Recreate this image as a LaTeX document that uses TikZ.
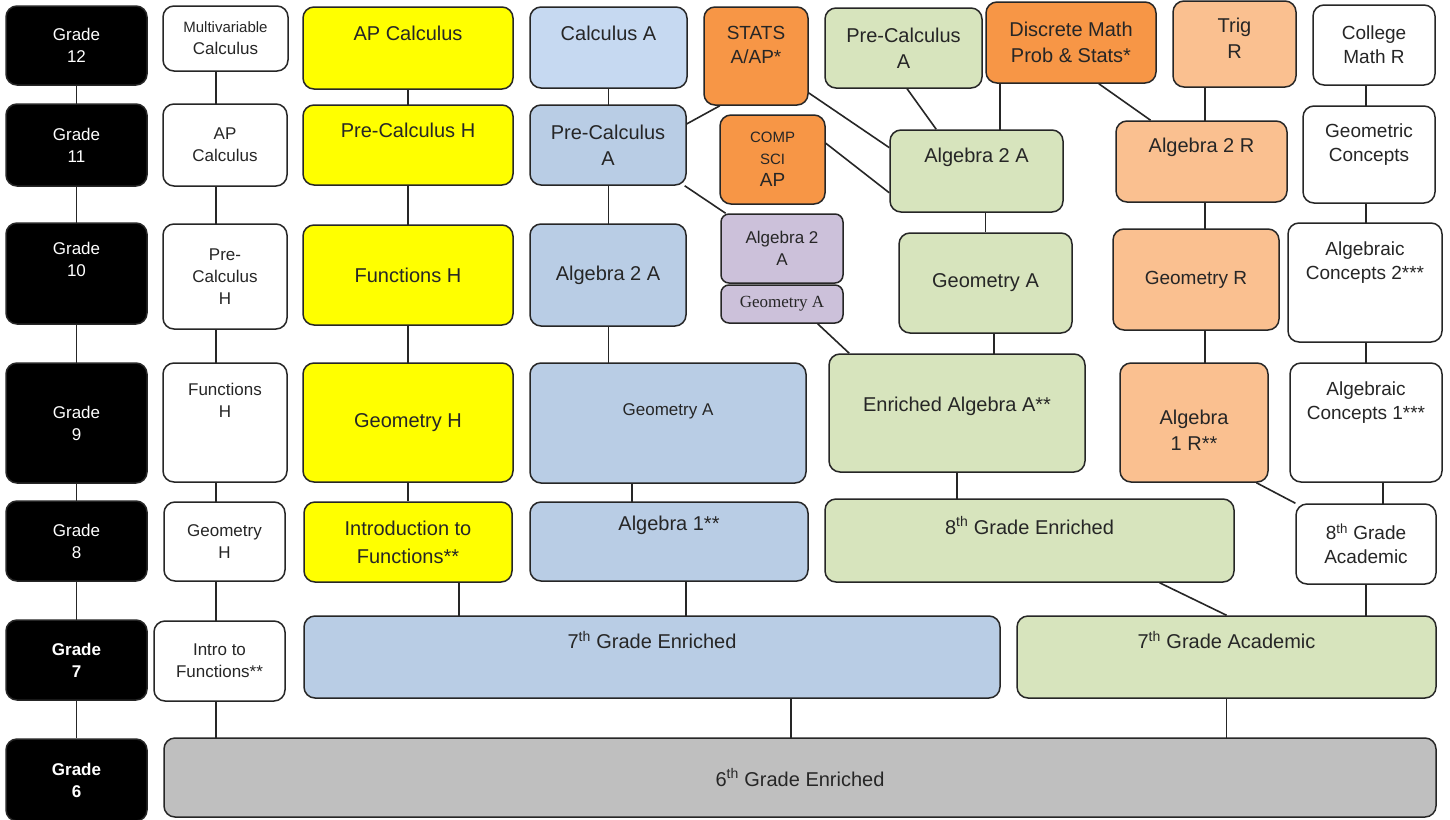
\documentclass[tikz,border=0pt]{standalone}
\usepackage{fontspec}
\setmainfont{Liberation Sans}
\newfontfamily\timesfont{Liberation Serif}
\usetikzlibrary{positioning}
\definecolor{honours}{HTML}{FFFF00}
\definecolor{accel}{HTML}{B9CDE5}
\definecolor{accellight}{HTML}{C6D9F1}
\definecolor{elective}{HTML}{F79646}
\definecolor{regular}{HTML}{FAC090}
\definecolor{enriched}{HTML}{D7E4BD}
\definecolor{bridge}{HTML}{CCC1DA}
\definecolor{base}{HTML}{BFBFBF}
\tikzset{
    % Lines joining one course to the next
    link/.style={draw=black!85, line width=1.6pt},
%
    % Every course is a rounded box with centred text
    course/.style={draw=black!85, line width=1.5pt, rounded corners=11pt,
        align=center, text=black!85},
    boxsize/.style 2 args={minimum width=#1, minimum height=#2},
%
    % Text sizes used in the chart
    bigtext/.style={font=\fontsize{20}{26}\selectfont},
    midtext/.style={font=\fontsize{19}{24}\selectfont},
    smalltext/.style={font=\fontsize{17}{22}\selectfont},
%
    % One fill for each track
    grade/.style={course, fill=black, text=white, smalltext, boxsize={141}{#1}},
    whitebox/.style={course, fill=white},
    yellowbox/.style={course, fill=honours},
    bluebox/.style={course, fill=accel},
    orangebox/.style={course, fill=elective},
    peachbox/.style={course, fill=regular},
    greenbox/.style={course, fill=enriched},
    purplebox/.style={course, fill=bridge, rounded corners=8pt},
    graybox/.style={course, fill=base},
    every label/.style={align=center, text=black!85}}
\pgfdeclarelayer{background}
\pgfsetlayers{background,main}
\begin{document}
\begin{tikzpicture}[x=1pt, y=-1pt]
\useasboundingbox (0,0) rectangle (1450,819);

% x positions of the vertical links that are off centre
\coordinate (colB) at (216,0);
\coordinate (colC) at (459,0);
\coordinate (colD) at (632,0);
\coordinate (colE) at (686,0);
\coordinate (colF) at (791,0);
\coordinate (colG) at (1000,0);
\coordinate (colH) at (994,0);
\coordinate (colI) at (1205,0);
\coordinate (colJ) at (1383,0);
\coordinate (colK) at (1366,0);

% grades
\node (g12) [grade=79] at (76.5,45.5) {Grade\\12};
\node (g11) [grade=82] at (76.5,145) {Grade\\11};
\node (g10) [grade=101,
    label={[smalltext, text=white, yshift=14pt]center:Grade\\10}]
    at (76.5,273.5) {};
\node (g9) [grade=120] at (76.5,423) {Grade\\9};
\node (g8) [grade=80] at (76.5,541) {Grade\\8};
\node (g7) [grade=80, font=\fontsize{17}{22}\selectfont\bfseries]
    at (76.5,660) {Grade\\7};
\node (g6) [grade=82, font=\fontsize{17}{22}\selectfont\bfseries]
    at (76.5,780) {Grade\\6};

% white track on the left
\node (mvc) [whitebox, smalltext, boxsize={125}{65}] at (225.5,38.5)
    {{\fontsize{15}{18}\selectfont Multivariable}\\Calculus};
\node (apc) [whitebox, smalltext, boxsize={124}{82}] at (225,145)
    {AP\\Calculus};
\node (pchW) [whitebox, smalltext, boxsize={124}{105}] at (225,276.5)
    {Pre-\\Calculus\\H};
\node (fnW) [whitebox, boxsize={124}{119},
    label={[smalltext, yshift=22pt]center:Functions\\H}] at (225,422.5) {};
\node (geoW) [whitebox, smalltext, boxsize={121}{79}] at (224.5,541.5)
    {Geometry\\H};
\node (introW) [whitebox, smalltext, boxsize={131}{80}] at (219.5,661)
    {Intro to\\Functions**};

% honours track
\node (apcY) [yellowbox, boxsize={210}{82},
    label={[bigtext, yshift=15pt]center:AP Calculus}] at (408,48) {};
\node (pchY) [yellowbox, boxsize={210}{80},
    label={[bigtext, yshift=15pt]center:Pre-Calculus H}] at (408,145) {};
\node (fnY) [yellowbox, bigtext, boxsize={210}{100}] at (408,275)
    {Functions H};
\node (geoY) [yellowbox, bigtext, boxsize={210}{119}] at (408,422.5)
    {Geometry H};
\node (introY) [yellowbox, font=\fontsize{20}{28}\selectfont,
    boxsize={208}{80}] at (408,542) {Introduction to\\Functions**};

% accelerated track
\node (calcA) [bluebox, fill=accellight, boxsize={157}{81},
    label={[bigtext, yshift=14pt]center:Calculus A}] at (608.5,47.5) {};
\node (pcA) [bluebox, bigtext, boxsize={156}{80}] at (608,145)
    {Pre-Calculus\\A};
\node (alg2A) [bluebox, bigtext, boxsize={156}{102}] at (608,275)
    {Algebra 2 A};
\node (geoA) [bluebox, boxsize={276}{120},
    label={[smalltext, yshift=12pt]center:Geometry A}] at (668,423) {};
\node (alg1) [bluebox, boxsize={278}{79},
    label={[bigtext, yshift=16pt]center:Algebra 1**}] at (669,541.5) {};
\node (enr7) [bluebox, boxsize={696}{82},
    label={[bigtext, yshift=17pt]center:7\textsuperscript{th} Grade Enriched}]
    at (652,657) {};

% electives and regular track
\node (stats) [orangebox, boxsize={104}{98},
    label={[midtext, yshift=11pt]center:STATS\\A/AP*}] at (756,56) {};
\node (comp) [orangebox, font=\fontsize{15}{22}\selectfont,
    boxsize={105}{89}] at (772.5,159.5)
    {COMP\\SCI\\{\fontsize{19}{22}\selectfont AP}};
\node (disc) [orangebox, bigtext, boxsize={170}{81}] at (1071,42.5)
    {Discrete Math\\Prob \& Stats*};
\node (trig) [peachbox, boxsize={123}{86},
    label={[bigtext, yshift=6pt]center:Trig\\R}] at (1234.5,44) {};
\node (alg2R) [peachbox, boxsize={171}{81},
    label={[bigtext, yshift=14pt]center:Algebra 2 R}] at (1201.5,161.5) {};
\node (geoR) [peachbox, midtext, boxsize={166}{101}] at (1196,279.5)
    {Geometry R};
\node (alg1R) [peachbox, boxsize={148}{119},
    label={[bigtext, yshift=-8pt]center:Algebra\\1 R**}] at (1194,422.5) {};

% enriched track
\node (pcAg) [greenbox, bigtext, boxsize={157}{80}] at (903.5,48)
    {Pre-Calculus\\A};
\node (alg2Ag) [greenbox, boxsize={173}{82},
    label={[bigtext, yshift=14pt]center:Algebra 2 A}] at (976.5,171) {};
\node (geoAg) [greenbox, bigtext, boxsize={173}{100}] at (985.5,283)
    {Geometry A};
\node (enrA) [greenbox, boxsize={256}{118},
    label={[bigtext, yshift=7pt]center:Enriched Algebra A**}] at (957,413) {};
\node (enr8) [greenbox, boxsize={409}{83},
    label={[bigtext, yshift=15pt]center:8\textsuperscript{th} Grade Enriched}]
    at (1029.5,540.5) {};
\node (ac7) [greenbox, boxsize={419}{82},
    label={[bigtext, yshift=17pt]center:7\textsuperscript{th} Grade Academic}]
    at (1226.5,657) {};

% bridge courses
\node (palg) [purplebox, smalltext, boxsize={122}{69}] at (782,248.5)
    {Algebra 2\\A};
\node (pgeo) [purplebox, font=\timesfont\fontsize{17}{20}\selectfont,
    boxsize={122}{38}] at (782,304) {Geometry A};

% white track on the right
\node (college) [whitebox, midtext, boxsize={122}{80}] at (1374,45)
    {College\\Math R};
\node (geoC) [whitebox, boxsize={132}{97},
    label={[midtext, yshift=10pt]center:Geometric\\Concepts}] at (1369,154.5) {};
\node (ac2) [whitebox, boxsize={154}{119},
    label={[midtext, yshift=20pt]center:Algebraic\\Concepts 2***}]
    at (1365,282.5) {};
\node (ac1) [whitebox, boxsize={152}{119},
    label={[midtext, yshift=20pt]center:Algebraic\\Concepts 1***}]
    at (1366,422.5) {};
\node (ac8) [whitebox, midtext, boxsize={140}{80}] at (1366,544)
    {8\textsuperscript{th} Grade\\Academic};

\node (gr6) [graybox, bigtext, boxsize={1272}{79}] at (800,777.5)
    {6\textsuperscript{th} Grade Enriched};

\begin{pgfonlayer}{background}
\fill[white] (0,0) rectangle (1450,819);
% vertical links, hidden under the boxes they pass
\draw[link] (g12) -- (g6);
\draw[link] (mvc -| colB) -- (gr6 -| colB);
\draw[link] (apcY) -- (introY);
\draw[link] (introY -| colC) -- (enr7 -| colC);
\draw[link] (calcA) -- (calcA |- geoA);
\draw[link] (geoA -| colD) -- (alg1 -| colD);
\draw[link] (alg1 -| colE) -- (enr7 -| colE);
\draw[link] (enr7 -| colF) -- (gr6 -| colF);
\draw[link] (ac7) -- (ac7 |- gr6);
\draw[link] (enrA) -- (enrA |- enr8);
\draw[link] (geoAg) -- (geoAg |- alg2Ag);
\draw[link] (geoAg -| colH) -- (enrA -| colH);
\draw[link] (disc -| colG) -- (alg2Ag -| colG);
\draw[link] (trig -| colI) -- (alg1R -| colI);
\draw[link] (college -| colK) -- (ac1 -| colK);
\draw[link] (ac1 -| colJ) -- (ac8 -| colJ);
\draw[link] (ac8) -- (ac8 |- ac7);
% slanted links
\draw[link] (stats.-126) -- (pcA.15);
\draw[link] (stats.-35) -- (alg2Ag.165);
\draw[link] (comp.17) -- (alg2Ag.-166);
\draw[link] (pcAg.-85) -- (alg2Ag.134);
\draw[link] (disc.-56) -- (alg2R.141);
\draw[link] (pcA.-28) -- (palg.148);
\draw[link] (pgeo.-29) -- (enrA.151);
\draw[link] (enr8.-18) -- (ac7.north);
\draw[link] (alg1R.-44) -- (ac8.150);
\end{pgfonlayer}

\end{tikzpicture}
\end{document}
